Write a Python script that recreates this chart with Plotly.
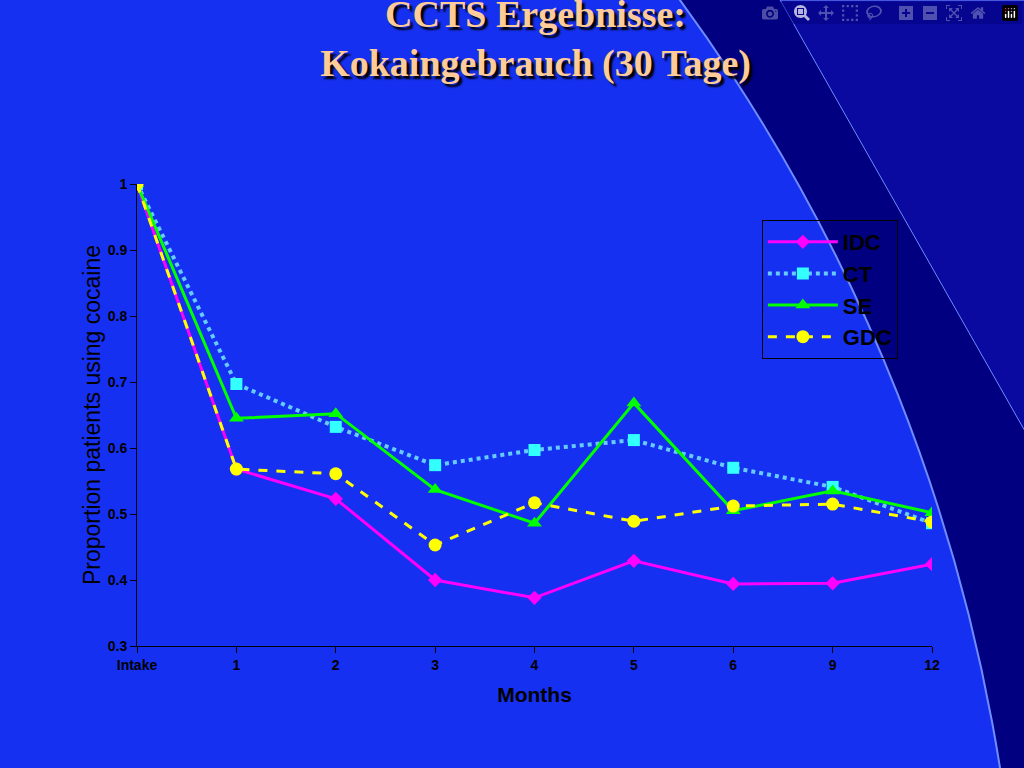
import plotly.graph_objects as go

months = ["Intake", "1", "2", "3", "4", "5", "6", "9", "12"]
idc = [1.0, 0.568, 0.523, 0.400, 0.373, 0.429, 0.394, 0.395, 0.424]
ct = [1.0, 0.697, 0.632, 0.574, 0.597, 0.612, 0.570, 0.541, 0.486]
se = [1.0, 0.645, 0.652, 0.537, 0.486, 0.668, 0.505, 0.535, 0.502]
gdc = [1.0, 0.568, 0.561, 0.453, 0.517, 0.489, 0.512, 0.515, 0.488]

xs = list(range(len(months)))
fig = go.Figure()
fig.add_trace(go.Scatter(x=xs, y=idc, name="IDC", mode="lines+markers",
                         line=dict(color="#FF00FF", width=3),
                         marker=dict(symbol="diamond", size=11, color="#FF00FF")))
fig.add_trace(go.Scatter(x=xs, y=ct, name="CT", mode="lines+markers",
                         line=dict(color="#66CCFF", width=4, dash="dot"),
                         marker=dict(symbol="square", size=12, color="#33FFFF")))
fig.add_trace(go.Scatter(x=xs, y=se, name="SE", mode="lines+markers",
                         line=dict(color="#00FF00", width=3),
                         marker=dict(symbol="triangle-up", size=13, color="#00FF00")))
fig.add_trace(go.Scatter(x=xs, y=gdc, name="GDC", mode="lines+markers",
                         line=dict(color="#FFFF00", width=3, dash="dash"),
                         marker=dict(symbol="circle", size=13, color="#FFFF00")))

# background: bright blue disc with a navy edge on the right (plot-domain coords)
fig.add_shape(type="circle", xref="paper", yref="paper", layer="below",
              x0=-3.335, x1=1.113, y0=-4.690, y1=2.963,
              fillcolor="#1630F2", line=dict(color="#6F8CFF", width=2))
fig.add_shape(type="path", xref="paper", yref="paper", layer="below",
              path="M 0.809,1.398 L 1.2,1.398 L 1.2,0.35 L 1.116,0.468 Z",
              fillcolor="#0A0AA0", line=dict(color="#6F8CFF", width=1))

axis_font = dict(family="Arial", size=14, color="black", weight="bold")
fig.update_layout(
    width=1024, height=768,
    paper_bgcolor="#000080", plot_bgcolor="rgba(0,0,0,0)",
    margin=dict(l=137, r=92, t=184, b=122),
    title=dict(text="CCTS Ergebnisse:<br>Kokaingebrauch (30 Tage)", x=0.523, y=0.965,
               xanchor="center", yanchor="top",
               font=dict(family="Liberation Serif", size=38, color="#FFCC99",
                         weight="bold", shadow="3px 3px 2px black")),
    showlegend=True,
    legend=dict(x=0.786, xanchor="left", y=0.922, yanchor="top",
                bgcolor="rgba(0,0,0,0)", bordercolor="black", borderwidth=1,
                font=dict(family="Arial", size=22, color="black", weight="bold"),
                itemwidth=70, entrywidth=150),
    xaxis=dict(range=[0, 8], tickvals=xs, ticktext=months, showgrid=False,
               zeroline=False, showline=True, linecolor="black", linewidth=1,
               ticks="outside", ticklen=6, tickcolor="black", tickfont=axis_font,
               title=dict(text="Months", font=dict(family="Arial", size=21,
                                                   color="black", weight="bold"))),
    yaxis=dict(range=[0.3, 1.0], dtick=0.1, showgrid=False, zeroline=False,
               showline=True, linecolor="black", linewidth=1, ticks="outside",
               ticklen=6, tickcolor="black", tickfont=axis_font,
               title=dict(text="Proportion patients using cocaine", standoff=0,
                          font=dict(family="Arial", size=23, color="black"))),
)
fig.write_html("out.html", post_script="document.body.style.margin='0';")
